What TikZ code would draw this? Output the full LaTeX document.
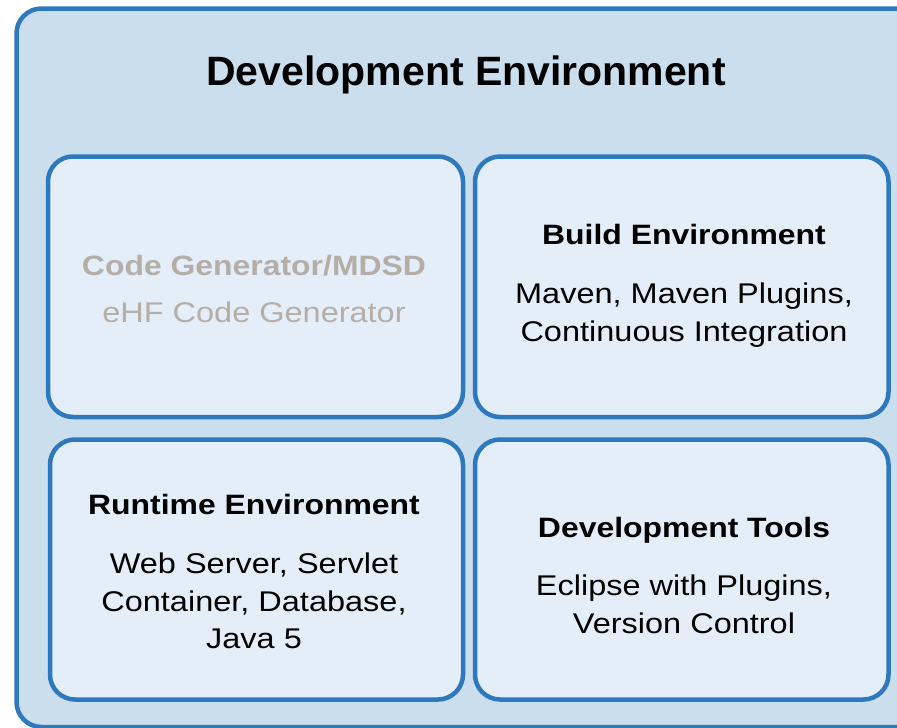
\documentclass[tikz,border=0pt]{standalone}
\usepackage{fontspec}
\setmainfont{Liberation Sans}
\newfontfamily\innerfont[FakeStretch=1.14]{Liberation Sans}
\definecolor{outerfill}{HTML}{CBDEEE}
\definecolor{innerfill}{HTML}{E4EEF8}
\definecolor{edgeblue}{HTML}{2E78BE}
\definecolor{graytext}{HTML}{B5AEA7}
\tikzset{
  panel/.style={draw=edgeblue, line width=4.5pt, rounded corners=25pt},
  outerpanel/.style={panel, fill=outerfill},
  innerpanel/.style={panel, fill=innerfill},
  titletext/.style={anchor=base, inner sep=0pt, font=\fontsize{41}{48}\selectfont\bfseries},
  headtext/.style={anchor=base, inner sep=0pt, font=\innerfont\fontsize{28}{38}\selectfont\bfseries},
  bodytext/.style={anchor=base, inner sep=0pt, font=\innerfont\fontsize{28.5}{38}\selectfont},
}
\begin{document}
\begin{tikzpicture}[x=1pt, y=-1pt]
\useasboundingbox (0,0) rectangle (897,728);
\begin{scope}
\clip (0,0) rectangle (897,728);
\draw[outerpanel] (16.5,8.5) rectangle (940,727);
\end{scope}
\node[titletext] (title) at (466,85) {Development Environment};
% boxes
\draw[innerpanel] (48,156.5) rectangle (463,417);
\draw[innerpanel] (475,156.5) rectangle (888.5,417);
\draw[innerpanel] (50,439.5) rectangle (463,699.5);
\draw[innerpanel] (475,439.5) rectangle (888.5,699.5);
% top-left
\node[headtext, text=graytext] (cgh) at (254,275) {Code Generator/MDSD};
\node[bodytext, text=graytext] (cgb) at (254,322) {eHF Code Generator};
% top-right
\node[headtext] (beh) at (684,244) {Build Environment};
\node[bodytext] (beb1) at (684,303) {Maven, Maven Plugins,};
\node[bodytext] (beb2) at (684,341) {Continuous Integration};
% bottom-left
\node[headtext] (reh) at (254,514) {Runtime Environment};
\node[bodytext] (reb1) at (254,573) {Web Server, Servlet};
\node[bodytext] (reb2) at (254,611) {Container, Database,};
\node[bodytext] (reb3) at (254,648) {Java 5};
% bottom-right
\node[headtext] (dth) at (684,537) {Development Tools};
\node[bodytext] (dtb1) at (684,595) {Eclipse with Plugins,};
\node[bodytext] (dtb2) at (684,633) {Version Control};
\end{tikzpicture}
\end{document}
